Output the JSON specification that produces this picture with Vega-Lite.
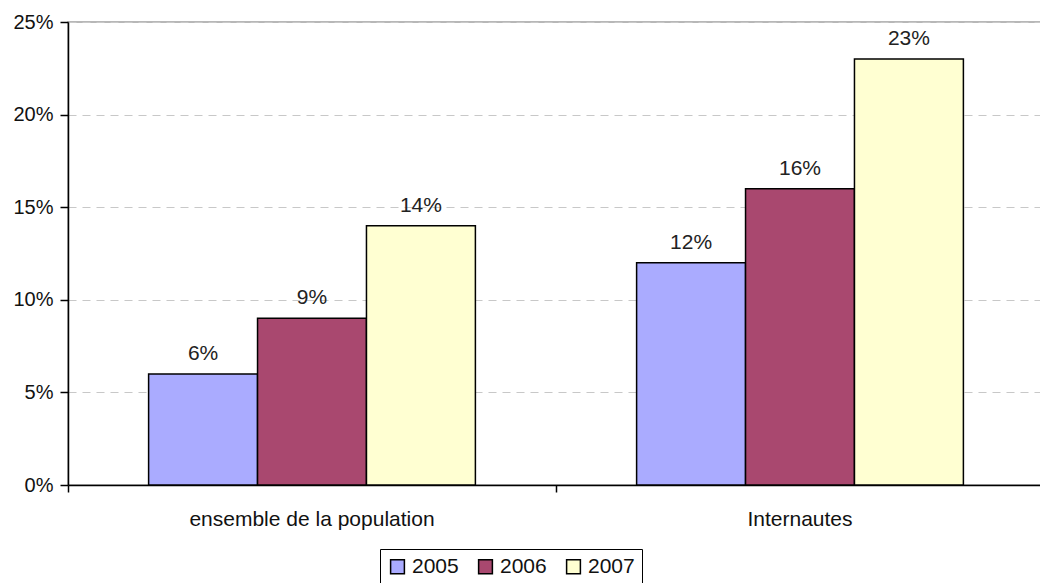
{
  "$schema": "https://vega.github.io/schema/vega-lite/v6.json",
  "width": 976,
  "height": 463,
  "autosize": {"type": "none"},
  "padding": {"left": 68, "top": 22, "right": 0, "bottom": 98},
  "background": "white",
  "config": {
    "font": "Liberation Sans",
    "view": {"stroke": "#a0a0a0", "strokeWidth": 1.5}
  },
  "data": {
    "values": [
      {"groupe": "ensemble de la population", "annee": "2005", "valeur": 0.06},
      {"groupe": "ensemble de la population", "annee": "2006", "valeur": 0.09},
      {"groupe": "ensemble de la population", "annee": "2007", "valeur": 0.14},
      {"groupe": "Internautes", "annee": "2005", "valeur": 0.12},
      {"groupe": "Internautes", "annee": "2006", "valeur": 0.16},
      {"groupe": "Internautes", "annee": "2007", "valeur": 0.23}
    ]
  },
  "encoding": {
    "x": {
      "field": "groupe",
      "type": "nominal",
      "sort": ["ensemble de la population", "Internautes"],
      "scale": {"paddingInner": 0, "paddingOuter": 0},
      "axis": {
        "title": null,
        "labelAngle": 0,
        "labelFontSize": 21,
        "labelLimit": 0,
        "labelColor": "#111",
        "labelPadding": 16,
        "bandPosition": 0,
        "domainColor": "black",
        "domainWidth": 1.5,
        "tickColor": "black",
        "tickWidth": 1.5,
        "tickSize": 7,
        "grid": false
      }
    },
    "xOffset": {
      "field": "annee",
      "type": "nominal",
      "scale": {"paddingInner": 0, "paddingOuter": 0.74}
    },
    "y": {
      "field": "valeur",
      "type": "quantitative",
      "scale": {"domain": [0, 0.25]},
      "axis": {
        "title": null,
        "format": ".0%",
        "values": [0, 0.05, 0.1, 0.15, 0.2, 0.25],
        "labelFontSize": 20,
        "labelColor": "#111",
        "labelPadding": 7,
        "domainColor": "black",
        "domainWidth": 1.5,
        "tickColor": "black",
        "tickWidth": 1.5,
        "tickSize": 8,
        "grid": true,
        "gridColor": "#c8c8c8",
        "gridDash": [8, 6],
        "gridWidth": 1.2
      }
    }
  },
  "layer": [
    {
      "mark": {"type": "bar", "stroke": "black", "strokeWidth": 1.5},
      "encoding": {
        "color": {
          "field": "annee",
          "type": "nominal",
          "scale": {"domain": ["2005", "2006", "2007"], "range": ["#aaabff", "#a9486f", "#ffffd2"]},
          "legend": {
            "title": null,
            "orient": "none",
            "direction": "horizontal",
            "legendX": 312,
            "legendY": 527,
            "symbolType": "square",
            "symbolSize": 190,
            "symbolStrokeColor": "black",
            "symbolStrokeWidth": 1.5,
            "labelFontSize": 21,
            "labelColor": "#111",
            "labelOffset": 4,
            "columnPadding": 16,
            "strokeColor": "black",
            "padding": 7
          }
        }
      }
    },
    {
      "mark": {"type": "text", "baseline": "bottom", "dy": -10, "fontSize": 21, "color": "#222"},
      "encoding": {
        "text": {"field": "valeur", "type": "quantitative", "format": ".0%"}
      }
    }
  ]
}
